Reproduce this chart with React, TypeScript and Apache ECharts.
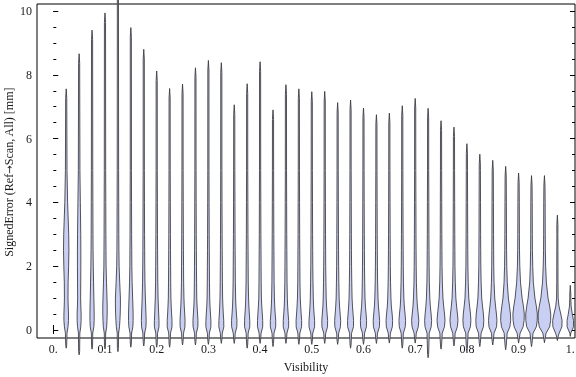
import React, { useEffect, useRef } from "react";
import * as echarts from "echarts";

// Violin centres (Visibility)
const POSITIONS = [
  0.025, 0.05, 0.075, 0.1, 0.125, 0.15, 0.175, 0.2, 0.225, 0.25,
  0.275, 0.3, 0.325, 0.35, 0.375, 0.4, 0.425, 0.45, 0.475, 0.5,
  0.525, 0.55, 0.575, 0.6, 0.625, 0.65, 0.675, 0.7, 0.725, 0.75,
  0.775, 0.8, 0.825, 0.85, 0.875, 0.9, 0.925, 0.95, 0.975, 1.0,
];

// Maximum signed error of each violin [mm]
const HIGHS = [
  7.56, 8.66, 9.4, 9.94, 10.9, 9.48, 8.8, 8.12, 7.57, 7.71,
  8.22, 8.45, 8.38, 7.06, 7.72, 8.41, 6.9, 7.69, 7.56, 7.47,
  7.48, 7.13, 7.21, 6.96, 6.75, 6.8, 7.03, 7.26, 6.95, 6.56,
  6.36, 5.84, 5.51, 5.32, 5.13, 4.92, 4.84, 4.84, 3.6, 1.4,
];

// Minimum signed error of each violin [mm]
const LOWS = [
  -0.57, -0.78, -0.6, -0.6, -0.68, -0.54, -0.5, -0.54, -0.54, -0.47,
  -0.47, -0.45, -0.42, -0.42, -0.57, -0.42, -0.52, -0.42, -0.45, -0.45,
  -0.42, -0.45, -0.57, -0.45, -0.42, -0.41, -0.57, -0.41, -0.87, -0.6,
  -0.5, -0.68, -0.52, -0.47, -0.62, -0.41, -0.52, -0.4, -0.33, -0.2,
];

// Error levels at which the density was read
const LEVELS = [-0.1, 0.1, 0.3, 0.5, 0.75, 1, 1.5, 2, 2.5, 3, 4, 5];

// Relative density of each violin at LEVELS
const DENSITIES = [
  [0.8, 1.8, 2.3, 2.3, 2.0, 1.8, 1.9, 2.4, 2.7, 2.5, 1.4, 0.8],
  [0.7, 1.6, 2.0, 2.0, 1.7, 1.5, 1.6, 1.7, 1.7, 1.6, 1.2, 0.8],
  [0.7, 1.8, 2.1, 2.1, 2.0, 1.8, 1.5, 1.2, 1.0, 0.9, 0.8, 0.7],
  [0.7, 1.7, 2.0, 2.2, 2.2, 2.0, 1.5, 1.1, 1.0, 0.9, 0.8, 0.7],
  [0.7, 1.6, 2.0, 2.3, 2.5, 2.5, 1.8, 1.2, 1.0, 0.9, 0.8, 0.7],
  [0.8, 2.0, 2.3, 2.3, 2.1, 1.8, 1.3, 1.0, 0.9, 0.8, 0.7, 0.6],
  [0.9, 2.2, 2.4, 2.2, 1.9, 1.6, 1.2, 1.0, 0.9, 0.8, 0.7, 0.6],
  [0.9, 2.3, 2.3, 2.0, 1.7, 1.4, 1.1, 1.0, 0.9, 0.8, 0.7, 0.6],
  [0.9, 2.4, 2.4, 2.0, 1.6, 1.3, 1.1, 1.0, 0.9, 0.8, 0.7, 0.6],
  [1.0, 2.4, 2.5, 2.2, 1.7, 1.4, 1.1, 1.0, 0.9, 0.8, 0.7, 0.6],
  [0.9, 2.4, 2.5, 2.1, 1.6, 1.3, 1.1, 1.0, 0.9, 0.8, 0.7, 0.6],
  [1.0, 2.5, 2.5, 2.1, 1.6, 1.3, 1.1, 1.0, 0.9, 0.8, 0.7, 0.6],
  [1.0, 2.5, 2.4, 2.0, 1.6, 1.3, 1.1, 1.0, 0.9, 0.8, 0.7, 0.6],
  [1.0, 2.6, 2.7, 2.2, 1.7, 1.4, 1.1, 1.0, 0.9, 0.8, 0.7, 0.6],
  [1.0, 2.6, 2.6, 2.2, 1.7, 1.4, 1.1, 1.0, 0.9, 0.8, 0.7, 0.6],
  [1.0, 2.6, 2.6, 2.2, 1.7, 1.3, 1.1, 1.0, 0.9, 0.8, 0.7, 0.6],
  [1.0, 2.7, 2.7, 2.2, 1.7, 1.4, 1.1, 1.0, 0.9, 0.8, 0.7, 0.6],
  [1.0, 2.7, 2.7, 2.2, 1.7, 1.4, 1.1, 1.0, 0.9, 0.8, 0.7, 0.6],
  [1.0, 2.7, 2.8, 2.3, 1.8, 1.4, 1.1, 1.0, 0.9, 0.8, 0.7, 0.6],
  [1.0, 2.8, 2.8, 2.3, 1.8, 1.5, 1.2, 1.0, 0.9, 0.8, 0.7, 0.6],
  [1.0, 2.8, 2.9, 2.4, 1.8, 1.5, 1.2, 1.0, 0.9, 0.8, 0.7, 0.6],
  [1.0, 2.8, 3.0, 2.5, 1.9, 1.5, 1.2, 1.0, 0.9, 0.8, 0.7, 0.6],
  [1.0, 2.9, 3.0, 2.5, 1.9, 1.5, 1.2, 1.0, 0.9, 0.8, 0.7, 0.6],
  [1.1, 2.9, 3.1, 2.6, 1.9, 1.5, 1.2, 1.0, 0.9, 0.8, 0.7, 0.6],
  [1.1, 3.0, 3.2, 2.7, 2.0, 1.6, 1.2, 1.0, 0.9, 0.8, 0.7, 0.6],
  [1.1, 3.0, 3.3, 2.8, 2.0, 1.6, 1.2, 1.0, 0.9, 0.8, 0.7, 0.6],
  [1.1, 3.0, 3.3, 2.8, 2.0, 1.6, 1.2, 1.0, 0.9, 0.8, 0.7, 0.6],
  [1.1, 3.1, 3.6, 3.0, 2.2, 1.7, 1.2, 1.0, 0.9, 0.8, 0.7, 0.6],
  [1.1, 3.1, 3.5, 3.0, 2.2, 1.7, 1.2, 1.0, 0.9, 0.8, 0.7, 0.6],
  [1.2, 3.4, 4.0, 3.5, 2.6, 1.9, 1.3, 1.0, 0.9, 0.8, 0.7, 0.6],
  [1.2, 3.4, 4.0, 3.5, 2.6, 1.9, 1.3, 1.0, 0.9, 0.8, 0.7, 0.6],
  [1.2, 3.5, 4.0, 3.6, 2.7, 1.9, 1.3, 1.0, 0.9, 0.8, 0.7, 0.6],
  [1.3, 3.6, 4.0, 3.6, 2.7, 1.9, 1.3, 1.0, 0.9, 0.8, 0.7, 0.6],
  [1.3, 3.8, 4.2, 3.7, 2.8, 2.0, 1.3, 1.0, 0.9, 0.8, 0.7, 0.6],
  [1.5, 4.2, 5.0, 4.8, 3.8, 2.7, 1.6, 1.1, 0.9, 0.8, 0.7, 0.6],
  [1.5, 4.5, 5.5, 5.7, 4.8, 3.5, 1.9, 1.2, 0.9, 0.8, 0.7, 0.6],
  [1.5, 4.8, 5.7, 5.8, 4.8, 3.4, 1.8, 1.2, 0.9, 0.8, 0.7, 0.6],
  [1.6, 5.2, 6.2, 6.3, 5.2, 3.6, 1.9, 1.2, 0.9, 0.8, 0.7, 0.6],
  [1.8, 4.5, 4.7, 3.4, 1.6, 0.8, 0.6, 0.6, 0.55, 0.5, 0.5, 0.5],
  [1.5, 3.2, 3.2, 2.0, 0.8, 0.5, 0.5, 0.5, 0.5, 0.5, 0.5, 0.5],
];

const X_TICKS = [0, 0.1, 0.2, 0.3, 0.4, 0.5, 0.6, 0.7, 0.8, 0.9, 1.0];
const TOP_TICKS = [0, ...POSITIONS];
const Y_MAJOR = [0, 2, 4, 6, 8, 10];
const Y_MINOR = [0, 0.5, 1, 1.5, 2, 2.5, 3, 3.5, 4, 4.5, 5, 5.5, 6, 6.5, 7, 7.5, 8, 8.5, 9, 9.5, 10];
const X_TITLE = "Visibility";
const Y_TITLE = "SignedError (Ref{arr|\u2192}Scan, All) [mm]";

const FONT = "'Liberation Serif', 'DejaVu Serif', 'Times New Roman', serif";
const TEXT_COLOR = "#1a1a1a";
const X_MIN = -0.0315;
const X_MAX = 1.0091;
const Y_MIN = -0.251;
const Y_MAX = 10.22;
const WIDTH_UNIT = 1 / 517; // x-units per unit of relative density

function profile(i: number): number[][] {
  const lo = LOWS[i];
  const hi = HIGHS[i];
  const pts: number[][] = [[lo, 0], [lo + 0.1, 0.5]];
  LEVELS.forEach((lv, k) => {
    if (lv > lo + 0.1 && lv < hi - 0.35) pts.push([lv, DENSITIES[i][k]]);
  });
  pts.push([hi - 0.3, 0.55]);
  pts.push([hi, 0]);
  return pts;
}

export default function App() {
  const ref = useRef<HTMLDivElement>(null);
  useEffect(() => {
    if (!ref.current) return;
    const chart = echarts.init(ref.current, null, { renderer: "svg" });
    const fmt = (v: number) => (v === 0 ? "0." : v === 1 ? "1." : v.toFixed(1));
    const hiddenLine = { show: false };
    chart.setOption({
      animation: false,
      grid: {
        left: 37,
        top: 4,
        width: 538,
        height: 334,
        show: true,
        borderColor: "#000",
        borderWidth: 1,
        backgroundColor: "transparent",
        containLabel: false,
        outerBoundsMode: "none",
      },
      graphic: [
        {
          type: "text",
          x: 9,
          y: 172,
          rotation: Math.PI / 2,
          style: {
            text: Y_TITLE,
            align: "center",
            verticalAlign: "middle",
            fontFamily: FONT,
            fontSize: 12,
            fill: TEXT_COLOR,
            rich: {
              arr: { fontFamily: "'DejaVu Sans', sans-serif", fontSize: 10, fill: TEXT_COLOR },
            },
          },
        },
      ],
      xAxis: [
        {
          type: "value",
          position: "bottom",
          min: X_MIN,
          max: X_MAX,
          axisLine: hiddenLine,
          splitLine: { show: false },
          axisTick: { inside: true, length: 5, customValues: X_TICKS, lineStyle: { color: "#000" } },
          axisLabel: {
            customValues: X_TICKS,
            formatter: fmt,
            margin: 5,
            fontFamily: FONT,
            fontSize: 12,
            color: TEXT_COLOR,
          },
          name: X_TITLE,
          nameLocation: "middle",
          nameGap: 23,
          nameTextStyle: { fontFamily: FONT, fontSize: 12, color: TEXT_COLOR },
        },
        {
          type: "value",
          position: "top",
          min: X_MIN,
          max: X_MAX,
          axisLine: hiddenLine,
          splitLine: { show: false },
          axisTick: { inside: true, length: 4, customValues: TOP_TICKS, lineStyle: { color: "#000" } },
          axisLabel: { show: false, customValues: TOP_TICKS },
        },
      ],
      yAxis: [
        {
          type: "value",
          position: "left",
          min: Y_MIN,
          max: Y_MAX,
          axisLine: hiddenLine,
          splitLine: { show: false },
          axisTick: { inside: true, length: 5, customValues: Y_MAJOR, lineStyle: { color: "#000" } },
          axisLabel: {
            customValues: Y_MAJOR,
            margin: 5,
            fontFamily: FONT,
            fontSize: 12,
            color: TEXT_COLOR,
          },
        },
        {
          type: "value",
          position: "left",
          offset: 0,
          min: Y_MIN,
          max: Y_MAX,
          axisLine: hiddenLine,
          splitLine: { show: false },
          axisTick: { inside: true, length: 3, customValues: Y_MINOR, lineStyle: { color: "#000" } },
          axisLabel: { show: false, customValues: Y_MINOR },
        },
        {
          type: "value",
          position: "right",
          offset: 0,
          min: Y_MIN,
          max: Y_MAX,
          axisLine: hiddenLine,
          splitLine: { show: false },
          axisTick: { inside: true, length: 5, customValues: Y_MAJOR, lineStyle: { color: "#000" } },
          axisLabel: { show: false, customValues: Y_MAJOR },
        },
        {
          type: "value",
          position: "right",
          offset: 0,
          min: Y_MIN,
          max: Y_MAX,
          axisLine: hiddenLine,
          splitLine: { show: false },
          axisTick: { inside: true, length: 3, customValues: Y_MINOR, lineStyle: { color: "#000" } },
          axisLabel: { show: false, customValues: Y_MINOR },
        },
      ],
      series: [
        {
          type: "custom",
          xAxisIndex: 0,
          yAxisIndex: 0,
          clip: false,
          data: POSITIONS.map((x, i) => [x, HIGHS[i], LOWS[i]]),
          renderItem: (params: any, api: any) => {
            const i = params.dataIndex;
            const x = api.value(0);
            const unit = api.size([WIDTH_UNIT, 0])[0];
            const prof = profile(i);
            const left = prof.map(([y, w]) => {
              const p = api.coord([x, y]);
              return [p[0] - w * unit, p[1]];
            });
            const right = prof
              .slice()
              .reverse()
              .map(([y, w]) => {
                const p = api.coord([x, y]);
                return [p[0] + w * unit, p[1]];
              });
            return {
              type: "polygon",
              shape: { points: left.concat(right) },
              style: {
                fill: "#c9cff3",
                stroke: "rgba(55,55,60,0.85)",
                lineWidth: 1,
                lineJoin: "round",
              },
            };
          },
        },
      ],
    });
    return () => chart.dispose();
  }, []);
  return (
    <div
      ref={ref}
      style={{ position: "fixed", left: 0, top: 0, width: 576, height: 377 }}
    />
  );
}
